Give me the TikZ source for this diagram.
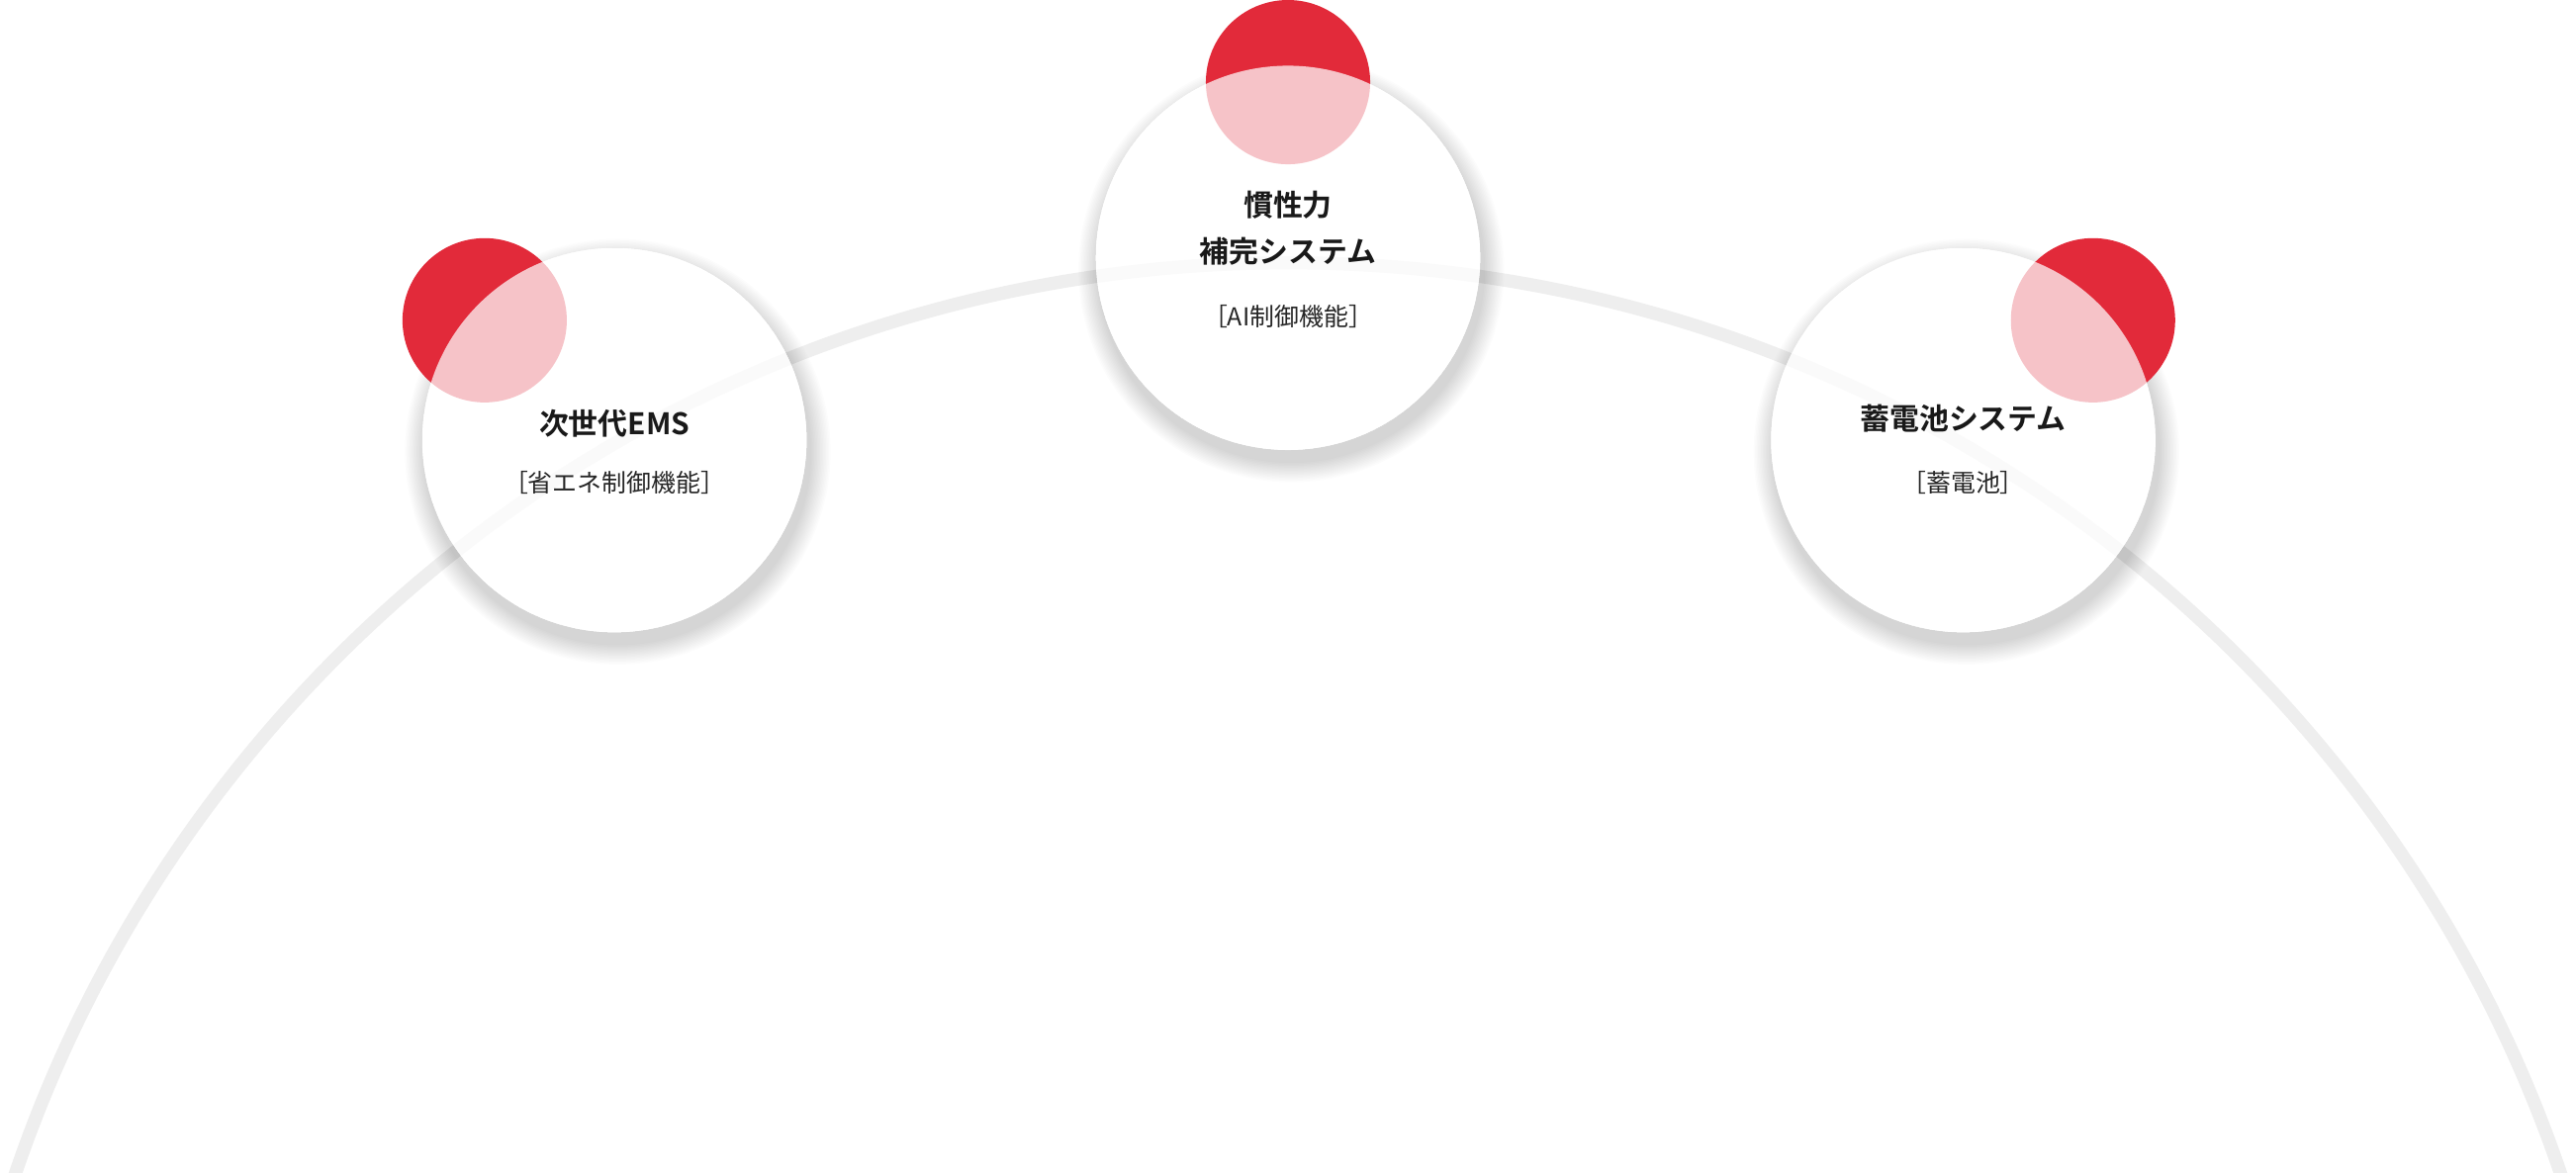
\documentclass[tikz,border=0pt]{standalone}
\usepackage{fontspec}
\newfontfamily\jp{Noto Sans CJK JP}
\newfontfamily\jpb{Noto Sans CJK JP Bold}
\definecolor{redc}{HTML}{E22A3A}
\definecolor{arcc}{HTML}{EEEEEE}
\tikzset{
  redball/.style={fill=redc, draw=none},
  glass/.style={fill=white, fill opacity=0.72, draw=none},
  ttl/.style={font=\jpb\fontsize{18}{28}\selectfont, align=center, text=black!90},
  sub/.style={font=\jp\fontsize{15}{20}\selectfont, text=black!85},
}
\newcommand{\shadowring}[3]{%
  \begin{scope}[even odd rule]
    \path[clip] (-10,-10) rectangle (1600,740) (#1,#2) circle (#3);
    \foreach \k in {1,...,14}{
      \fill[black, opacity=0.012] (#1+2,#2+7) circle ({#3+\k*0.9});
    }
  \end{scope}}
\begin{document}
\begin{tikzpicture}[x=1pt,y=-1pt]
\useasboundingbox (0,0) rectangle (1568,714);
\fill[white] (0,0) rectangle (1568,714);
\begin{scope}
\clip (0,0) rectangle (1568,714);
\draw[arcc, line width=8] (784,978) circle (818);
\end{scope}
\coordinate (lc) at (374,268);
\coordinate (cc) at (784,157);
\coordinate (rc) at (1195,268);
\shadowring{374}{268}{117}
\shadowring{784}{157}{117}
\shadowring{1195}{268}{117}
\fill[redball] (295,195) circle (50);
\fill[redball] (784,50) circle (50);
\fill[redball] (1274,195) circle (50);
\fill[glass] (lc) circle (117);
\fill[glass] (cc) circle (117);
\fill[glass] (rc) circle (117);
\node[ttl] (t1) at (374,258) {次世代EMS};
\node[sub] (s1) at (374,294) {［省エネ制御機能］};
\node[ttl] (t2) at (784,139) {慣性力\\補完システム};
\node[sub] (s2) at (784,193) {［AI制御機能］};
\node[ttl] (t3) at (1195,255) {蓄電池システム};
\node[sub] (s3) at (1195,294) {［蓄電池］};
\end{tikzpicture}
\end{document}
